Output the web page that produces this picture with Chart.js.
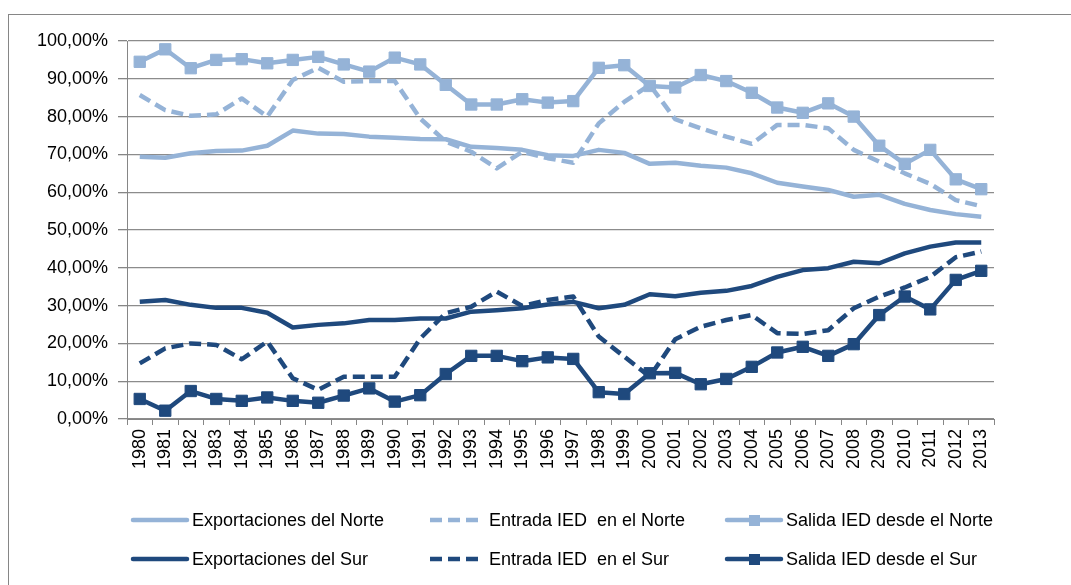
<!DOCTYPE html>
<html lang="es">
<head>
  <meta charset="UTF-8">
  <title>Exportaciones e IED Norte / Sur</title>
  <script src="https://cdn.jsdelivr.net/npm/chart.js"></script>
  <style>
    html, body { margin: 0; padding: 0; background: #fff; }
    .wrap { position: relative; width: 1071px; height: 585px; overflow: hidden; }
    .frame { position: absolute; left: 8px; top: 14px; width: 1100px; height: 620px; border: 1px solid #868686; }
    .wrap canvas { position: absolute; left: 0; top: 0; }
  </style>
</head>
<body>
<div class="wrap">
  <div class="frame"></div>
  <canvas id="chart" width="1071" height="585"></canvas>
</div>

<script>
const years = ["1980","1981","1982","1983","1984","1985","1986","1987","1988","1989",
  "1990","1991","1992","1993","1994","1995","1996","1997","1998","1999",
  "2000","2001","2002","2003","2004","2005","2006","2007","2008","2009",
  "2010","2011","2012","2013"];

const exportNorte  = [69.4,69.1,70.3,70.9,71.0,72.3,76.3,75.5,75.4,74.7,74.4,74.1,74.0,72.0,71.7,71.2,69.8,69.6,71.2,70.4,67.5,67.8,67.0,66.5,65.0,62.5,61.5,60.6,58.8,59.3,56.9,55.3,54.2,53.5];
const entradaNorte = [85.7,81.7,80.2,80.6,84.8,80.0,89.7,92.9,89.2,89.4,89.4,79.5,73.4,70.7,66.3,70.7,69.0,67.8,78.2,83.9,88.4,79.3,76.9,74.7,72.8,77.8,77.8,76.9,71.2,68.1,65.0,62.2,57.9,56.3];
const salidaNorte  = [94.5,97.8,92.8,95.0,95.2,94.1,95.0,95.8,93.8,91.9,95.6,93.8,88.4,83.2,83.2,84.6,83.7,84.1,92.9,93.6,88.1,87.7,91.0,89.4,86.3,82.4,81.0,83.5,80.0,72.3,67.5,71.2,63.4,60.8];
const exportSur    = [31.0,31.5,30.2,29.4,29.4,28.1,24.2,24.9,25.3,26.2,26.2,26.6,26.6,28.4,28.8,29.3,30.3,31.0,29.3,30.2,33.0,32.5,33.4,33.9,35.2,37.6,39.4,39.9,41.6,41.2,43.8,45.6,46.7,46.7];
const entradaSur   = [14.7,18.7,20.0,19.6,15.8,20.5,10.8,7.7,11.2,11.2,11.2,21.3,28.0,29.7,33.7,29.9,31.5,32.4,21.8,16.5,11.2,21.1,24.4,26.2,27.5,22.7,22.5,23.5,29.3,32.4,34.8,37.6,42.8,44.3];
const salidaSur    = [5.3,2.2,7.4,5.3,4.8,5.7,4.8,4.3,6.2,8.1,4.6,6.3,11.9,16.7,16.7,15.3,16.3,15.9,7.1,6.6,12.1,12.2,9.2,10.6,13.8,17.6,19.1,16.7,19.8,27.5,32.4,29.0,36.8,39.2];

const LIGHT = '#95b3d7';
const DARK = '#1f497d';
const GRID = '#8c8c8c';
const AXIS = '#868686';

Chart.defaults.font.family = "'Liberation Sans', Arial, sans-serif";
Chart.defaults.font.size = 18;
Chart.defaults.color = '#000';

const line = (label, data, color, dashed, marker) => ({
  label, data,
  borderColor: color, backgroundColor: color,
  borderWidth: 4.5,
  borderDash: dashed ? [12, 6] : [],
  borderJoinStyle: 'round',
  tension: 0,
  fill: false,
  pointStyle: 'rect',
  pointRadius: marker ? 8 : 0,
  pointBorderWidth: 1,
  pointBorderColor: color,
  pointBackgroundColor: color,
  pointHoverRadius: marker ? 8 : 0
});

// legend drawn below the plot, 3 columns x 2 rows like the original
const gridLegend = {
  id: 'gridLegend',
  afterDraw(chart) {
    const ctx = chart.ctx;
    const cols = [133, 430, 727];
    const rows = [520, 559];
    chart.data.datasets.forEach((ds, i) => {
      const x = cols[i % 3], y = rows[Math.floor(i / 3)];
      ctx.save();
      ctx.strokeStyle = ds.borderColor;
      ctx.lineWidth = ds.borderWidth;
      ctx.lineCap = ds.borderDash.length ? 'butt' : 'round';
      ctx.setLineDash(ds.borderDash);
      ctx.beginPath();
      ctx.moveTo(x, y);
      ctx.lineTo(x + 54, y);
      ctx.stroke();
      if (ds.pointRadius > 0) {
        ctx.fillStyle = ds.borderColor;
        ctx.fillRect(x + 22, y - 5, 11, 11);
      }
      ctx.fillStyle = '#000';
      ctx.font = "18px 'Liberation Sans', Arial, sans-serif";
      ctx.textBaseline = 'middle';
      ctx.fillText(ds.label, x + 59, y + 1);
      ctx.restore();
    });
  }
};

new Chart(document.getElementById('chart'), {
  type: 'line',
  data: {
    labels: years,
    datasets: [
      line('Exportaciones del Norte', exportNorte, LIGHT, false, false),
      line('Entrada IED  en el Norte', entradaNorte, LIGHT, true, false),
      line('Salida IED desde el Norte', salidaNorte, LIGHT, false, true),
      line('Exportaciones del Sur', exportSur, DARK, false, false),
      line('Entrada IED  en el Sur', entradaSur, DARK, true, false),
      line('Salida IED desde el Sur', salidaSur, DARK, false, true)
    ]
  },
  options: {
    responsive: false,
    animation: false,
    layout: { padding: { left: 0, top: 41, right: 77, bottom: 106 } },
    plugins: {
      legend: { display: false },
      tooltip: { enabled: false }
    },
    scales: {
      x: {
        offset: true,
        grid: { offset: true, drawOnChartArea: false, drawTicks: true, tickLength: 6, color: AXIS },
        border: { color: AXIS, width: 1 },
        ticks: { autoSkip: false, maxRotation: 90, minRotation: 90, padding: 4 },
        afterFit(scale) { scale.height = 60; }
      },
      y: {
        min: 0, max: 100,
        grid: { color: GRID, lineWidth: 1.3, tickLength: 9, tickColor: AXIS },
        border: { color: AXIS, width: 1 },
        ticks: {
          stepSize: 10, padding: 10,
          callback: v => v.toFixed(2).replace('.', ',') + '%'
        },
        afterFit(scale) { scale.width = 127; }
      }
    }
  },
  plugins: [gridLegend]
});
</script>
</body>
</html>
